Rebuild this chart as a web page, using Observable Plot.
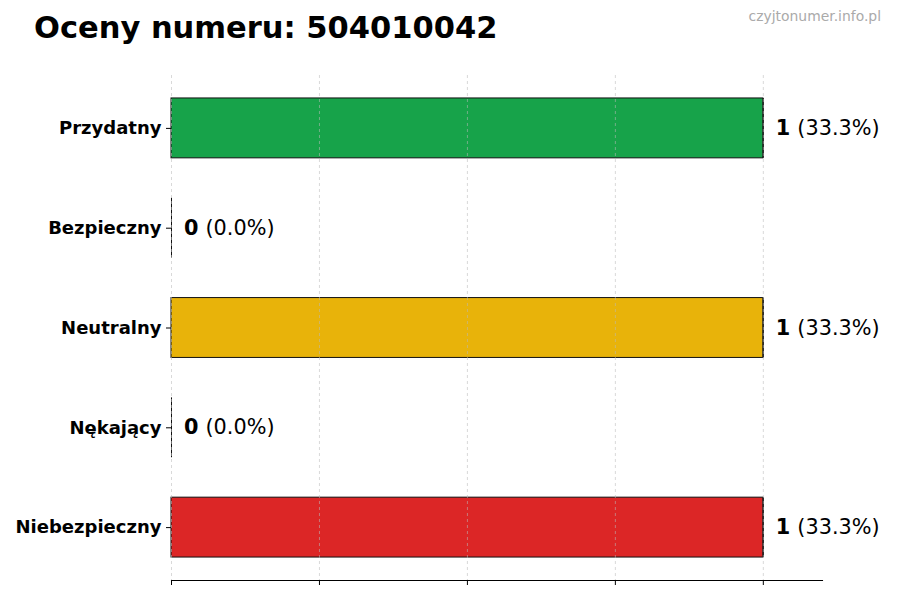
<!DOCTYPE html>
<html><head><meta charset="utf-8">
<script src="https://cdn.jsdelivr.net/npm/d3@7"></script>
<script src="https://cdn.jsdelivr.net/npm/@observablehq/plot@0.6"></script>
<style>
body{margin:0;background:#fff;font-family:"DejaVu Sans",sans-serif;}
#wrap{position:relative;width:900px;height:600px;}
#title{position:absolute;left:34px;top:10px;font-size:30.5px;font-weight:bold;color:#000;white-space:nowrap;}
#wm{position:absolute;right:19px;top:8px;font-size:13.9px;color:#aaa;white-space:nowrap;font-family:"DejaVu Sans",sans-serif;}
#chart{position:absolute;left:0;top:60px;}
</style></head>
<body><div id="wrap"><div id="title">Oceny numeru: 504010042</div><div id="wm">czyjtonumer.info.pl</div><div id="chart"></div></div>
<script>
const categories = ["Przydatny","Bezpieczny","Neutralny","Nękający","Niebezpieczny"];
const counts = [1,0,1,0,1];
const percents = ["33.3%","0.0%","33.3%","0.0%","33.3%"];
const colors = ["#17a34a","#2563eb","#e8b30a","#f97316","#dc2626"];
const gridTicks = [0,0.25,0.5,0.75,1];

const data = categories.map((c,i)=>({category:c,value:counts[i],pct:percents[i],color:colors[i]}));

const chart = Plot.plot({
  width:900, height:540,
  marginLeft:171, marginRight:78, marginTop:15, marginBottom:20,
  style:{fontFamily:"DejaVu Sans, sans-serif", background:"#fff"},
  x:{domain:[0,1.1], ticks:gridTicks, axis:null},
  y:{domain:categories, paddingInner:0.4, paddingOuter:0.23, round:false, axis:null},
  marks:[
    Plot.barX(data,{x:"value",y:"category",fill:"color",stroke:"#111",strokeWidth:1}),
    Plot.tickX(data,{x:"value",y:"category",stroke:"#111",strokeWidth:1}),
    Plot.ruleX(gridTicks,{stroke:"#bbb",strokeOpacity:0.7,strokeDasharray:"3,3",strokeWidth:0.8}),
    Plot.axisY({tickSize:5,tickPadding:5,fontSize:18,fontWeight:"bold",fill:"#000",stroke:"#000",label:null}),
    Plot.axisX({ticks:gridTicks,tickSize:5,tickFormat:()=>"",label:null,stroke:"#000"}),
    Plot.frame({anchor:"bottom",stroke:"#000",strokeWidth:1.1}),
    Plot.text(data,{x:"value",y:"category",text:d=>String(d.value),dx:12.5,textAnchor:"start",fontSize:20.8,fontWeight:"bold",fill:"#000"}),
    Plot.text(data,{x:"value",y:"category",text:d=>"("+d.pct+")",dx:34,textAnchor:"start",fontSize:20.8,fill:"#000"})
  ]
});
document.getElementById("chart").appendChild(chart);
</script></body></html>
